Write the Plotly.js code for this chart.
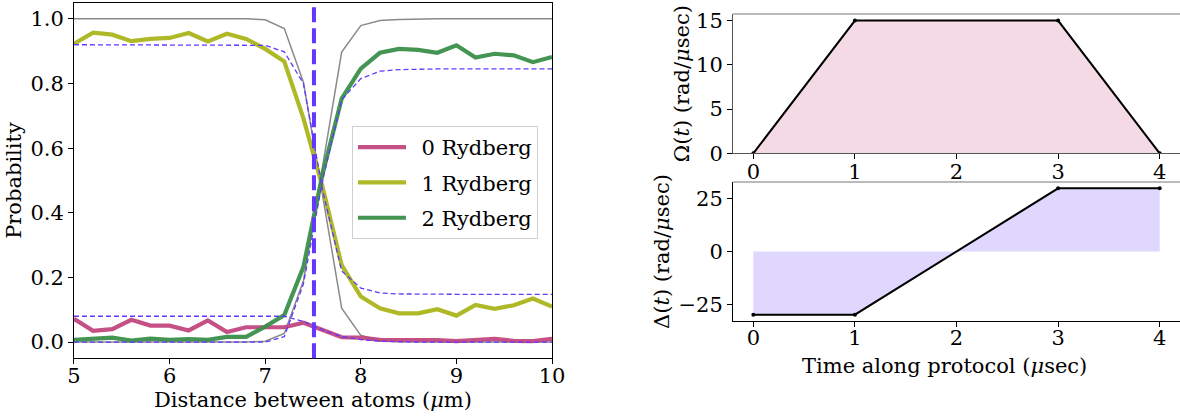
<!DOCTYPE html>
<html>
<head>
<meta charset="utf-8">
<script src="https://cdn.plot.ly/plotly-3.0.1.min.js"></script>
<style>html,body{margin:0;padding:0;background:#fff;}#chart{width:1180px;height:419px;}</style>
</head>
<body>
<div id="chart"></div>
<script>
// ---------- Data ----------
const distance = [5.0,5.2,5.4,5.6,5.8,6.0,6.2,6.4,6.6,6.8,7.0,7.2,7.4,7.6,7.8,8.0,8.2,8.4,8.6,8.8,9.0,9.2,9.4,9.6,9.8,10.0];
const p0Rydberg = [0.072,0.035,0.040,0.069,0.051,0.051,0.036,0.067,0.031,0.046,0.046,0.046,0.060,0.038,0.015,0.014,0.007,0.006,0.007,0.006,0.003,0.006,0.010,0.004,0.003,0.010];
const p1Rydberg = [0.923,0.957,0.951,0.931,0.938,0.941,0.956,0.930,0.954,0.938,0.907,0.868,0.692,0.480,0.238,0.141,0.105,0.089,0.089,0.102,0.082,0.115,0.103,0.114,0.135,0.110];
const p2Rydberg = [0.007,0.010,0.014,0.005,0.011,0.007,0.009,0.007,0.016,0.016,0.048,0.084,0.233,0.520,0.753,0.846,0.895,0.907,0.904,0.895,0.918,0.880,0.892,0.887,0.866,0.882];
// gray reference curves
const grayFalling = [1,1,1,1,1,1,1,1,1,1,0.997,0.970,0.804,0.450,0.105,0.021,0.004,0.001,0,0,0,0,0,0,0,0];
const grayRising  = [0,0,0,0,0,0,0,0,0,0,0.003,0.027,0.190,0.550,0.897,0.979,0.995,0.998,1,1,1,1,1,1,1,1];
// dashed ideal curves
const ideal1 = [0.92,0.92,0.92,0.92,0.92,0.92,0.92,0.92,0.92,0.92,0.918,0.898,0.800,0.470,0.220,0.167,0.152,0.149,0.148,0.148,0.148,0.148,0.148,0.148,0.148,0.148];
const ideal2 = [0,0,0,0,0,0,0,0,0,0,0,0.017,0.180,0.500,0.750,0.815,0.838,0.843,0.845,0.845,0.845,0.845,0.845,0.845,0.845,0.845];
const ideal0 = [0.08,0.08,0.08,0.08,0.08,0.08,0.08,0.08,0.08,0.08,0.08,0.08,0.064,0.038,0.017,0.008,0.003,0.001,0,0,0,0,0,0,0,0];
const blockadeRadius = 7.51;
// protocol
const protocolTime = [0,1,3,4];
const omegaValues = [0,15,15,0];
const deltaValues = [-30,-30,30,30];
const seriesNames = ['0 Rydberg','1 Rydberg','2 Rydberg'];

// ---------- Style ----------
const FONT = 'DejaVu Serif';
const FS = 21;
const cPink = '#C2477F', cYellow = '#ABB51B', cGreen = '#3A8F4B', cPurple = '#6437FF', cGray = '#8a8a8a';

const traces = [];
[grayFalling, grayRising].forEach(v => traces.push({x: distance, y: v, mode:'lines', line:{color:cGray, width:1.5}, showlegend:false, hoverinfo:'skip', xaxis:'x', yaxis:'y'}));
[[p0Rydberg,cPink],[p1Rydberg,cYellow],[p2Rydberg,cGreen]].forEach(([v,c],i) => traces.push({x: distance, y: v, name: '\u2002' + seriesNames[i], legendgroup:'g'+i, mode:'lines', line:{color:c, width:4.2}, opacity:0.95, xaxis:'x', yaxis:'y'}));
[ideal1, ideal2, ideal0].forEach(v => traces.push({x: distance, y: v, mode:'lines', line:{color:cPurple, width:1.3, dash:'5px,3px'}, showlegend:false, xaxis:'x', yaxis:'y'}));

traces.push({x: protocolTime, y: omegaValues, mode:'lines+markers', fill:'tozeroy', fillcolor:'rgba(194,71,127,0.2)', line:{color:'#000', width:2}, marker:{color:'#000', size:4}, showlegend:false, xaxis:'x2', yaxis:'y2'});
traces.push({x: protocolTime, y: deltaValues, mode:'lines+markers', fill:'tozeroy', fillcolor:'rgba(100,55,255,0.2)', line:{color:'#000', width:2}, marker:{color:'#000', size:4}, showlegend:false, xaxis:'x3', yaxis:'y3'});

const tickFont = {family: FONT, size: FS, color:'#000'};
const baseAxis = {showgrid:false, zeroline:false, showline:true, linecolor:'#000', linewidth:1, ticks:'outside', ticklen:5, tickwidth:1, tickcolor:'#000', tickfont: tickFont};

const layout = {
  width:1180, height:419,
  margin:{l:0,r:0,t:0,b:0},
  paper_bgcolor:'#fff', plot_bgcolor:'#fff',
  font:{family:FONT, size:FS, color:'#000'},
  showlegend:true,
  legend:{x:0.2983, y:1-126/419, xanchor:'left', yanchor:'top', bgcolor:'rgba(255,255,255,0.8)', bordercolor:'#d0d0d0', borderwidth:1, font:{family:FONT, size:FS}, itemwidth:48, traceorder:'grouped', tracegroupgap:5},
  xaxis: Object.assign({}, baseAxis, {domain:[0.0627,0.4678], range:[5,10], mirror:true, tickvals:[5,6,7,8,9,10], anchor:'y', ticklabelstandoff:-6,
    title:{text:'Distance between atoms (<i>μ</i>m)', font:{family:FONT,size:FS}, standoff:1}}),
  yaxis: Object.assign({}, baseAxis, {domain:[0.1449,0.9936], range:[-0.05,1.05], mirror:true, tickvals:[0,0.2,0.4,0.6,0.8,1.0], tickformat:'.1f', anchor:'x',
    title:{text:'Probability', font:{family:FONT,size:FS}, standoff:3}}),
  xaxis2: Object.assign({}, baseAxis, {domain:[0.6212,1], range:[-0.2,4.2], tickvals:[0,1,2,3,4], anchor:'y2', linecolor:'#555', ticklabelstandoff:-6}),
  yaxis2: Object.assign({}, baseAxis, {domain:[0.6341,0.9666], range:[0,15.75], tickvals:[0,5,10,15], anchor:'x2', linecolor:'#555',
    title:{text:'Ω(<i>t</i>) (rad/<i>μ</i>sec)', font:{family:FONT,size:FS}, standoff:0}}),
  xaxis3: Object.assign({}, baseAxis, {domain:[0.6212,1], range:[-0.2,4.2], tickvals:[0,1,2,3,4], anchor:'y3', ticklabelstandoff:-7}),
  yaxis3: Object.assign({}, baseAxis, {domain:[0.2339,0.5656], range:[-33,33], tickvals:[-25,0,25], anchor:'x3',
    title:{text:'Δ(<i>t</i>) (rad/<i>μ</i>sec)', font:{family:FONT,size:FS}, standoff:3}}),
  annotations:[
    {text:'Time along protocol (<i>μ</i>sec)', xref:'paper', yref:'paper', x:944.6/1180, y:1-366/419, xanchor:'center', yanchor:'middle', showarrow:false, font:{family:FONT, size:FS, color:'#000'}}
  ],
  shapes:[
    {type:'line', xref:'x', yref:'y domain', x0:blockadeRadius, x1:blockadeRadius, y0:0, y1:1, line:{color:cPurple, width:4, dash:'15px,6px'}, layer:'above'},
    {type:'line', xref:'x2 domain', yref:'y2 domain', x0:0, x1:1, y0:1, y1:1, line:{color:'#777', width:1}},
    {type:'line', xref:'x3 domain', yref:'y3 domain', x0:0, x1:1, y0:1, y1:1, line:{color:'#777', width:1}}
  ]
};

Plotly.newPlot('chart', traces, layout, {staticPlot:true, displayModeBar:false});
</script>
</body>
</html>
